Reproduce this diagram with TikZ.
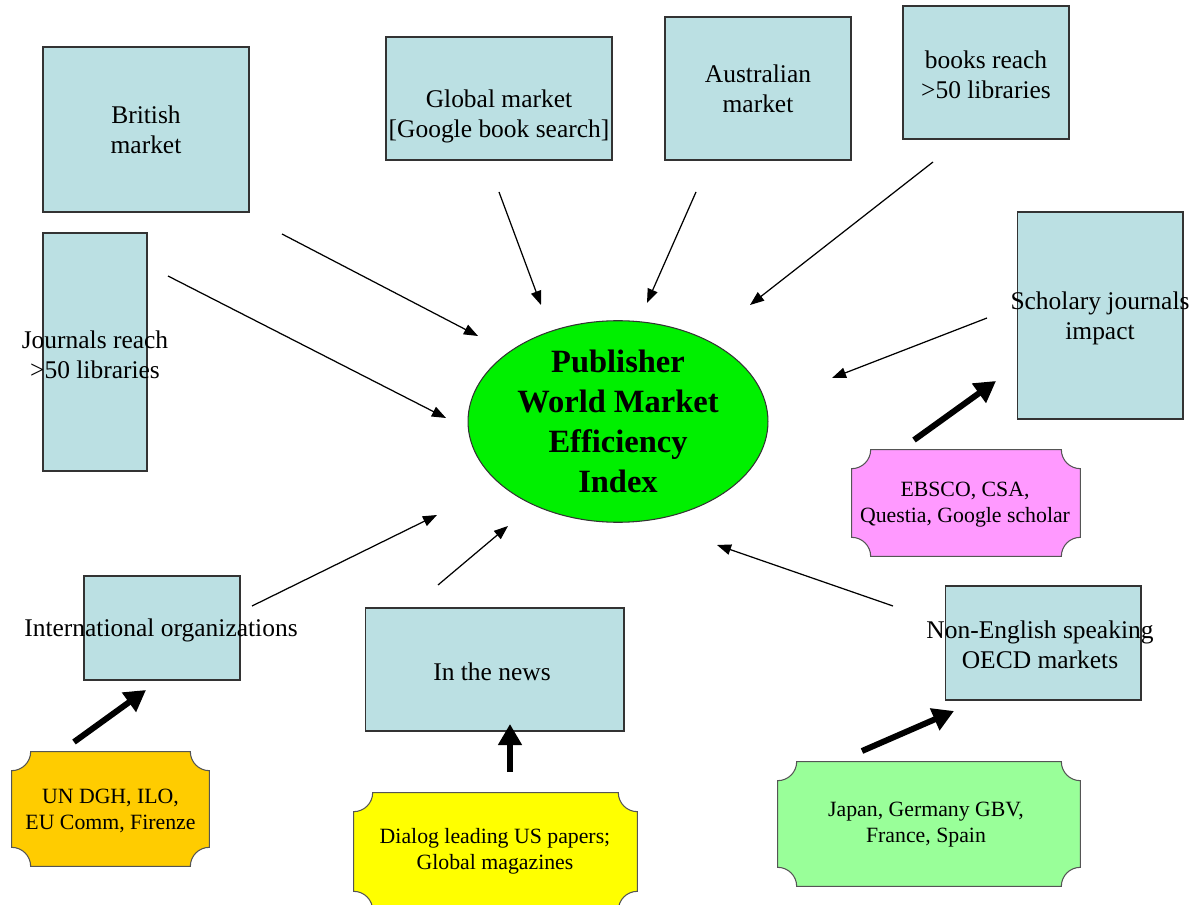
\documentclass[tikz,border=0pt]{standalone}
\usepackage{fontspec}
\setmainfont{Liberation Serif}
\usetikzlibrary{arrows.meta,shapes.geometric,backgrounds}
\definecolor{boxfill}{HTML}{BBE0E3}
\definecolor{boxline}{HTML}{333333}
\definecolor{bannerline}{HTML}{555555}
\definecolor{ellfill}{HTML}{00F000}
\definecolor{orangefill}{HTML}{FFCC00}
\definecolor{yellowfill}{HTML}{FFFF00}
\definecolor{greenfill}{HTML}{99FF99}
\definecolor{pinkfill}{HTML}{FF99FF}
\newcommand{\drawbanner}[2]{%
  \fill[#2, draw=bannerline, line width=0.6pt]
    ([xshift=-0.38cm]#1.north east) arc[start angle=180,end angle=270,radius=0.38cm]
    -- ([yshift=0.38cm]#1.south east) arc[start angle=90,end angle=180,radius=0.38cm]
    -- ([xshift=0.38cm]#1.south west) arc[start angle=0,end angle=90,radius=0.38cm]
    -- ([yshift=-0.38cm]#1.north west) arc[start angle=270,end angle=360,radius=0.38cm]
    -- cycle;}
\begin{document}
\begin{tikzpicture}[x=0.02cm,y=-0.02cm,
  box/.style={draw=boxline, fill=boxfill, line width=0.6pt, inner sep=0pt, align=center,
    font=\fontsize{14.5}{17}\selectfont},
  boxtext/.style={inner sep=0pt, align=center, font=\fontsize{14.5}{17}\selectfont},
  bannertext/.style={inner sep=0pt, align=center, font=\fontsize{12.4}{14.7}\selectfont},
  thinarrow/.style={draw=black, line width=0.7pt, -{Triangle[length=8pt,width=6pt]}},
  thickarrow/.style={draw=black, line width=3.4pt, -{Triangle[length=12pt,width=13pt]}}
]
\path[use as bounding box, clip] (0,0) rectangle (1197,905);

% boxes
\node[box, minimum width=4.12cm, minimum height=3.30cm] (british) at (146,129.5) {British\\market};
\node[box, minimum width=2.08cm, minimum height=4.76cm] (journals) at (95,352) {};
\node[boxtext] (journalstxt) at (95,355) {Journals reach\\>50 libraries};
\node[box, minimum width=4.52cm, minimum height=2.46cm] (global) at (499,98.5) {};
\node[boxtext] (globaltxt) at (499,116) {Global market\\{}[Google book search]};
\node[box, minimum width=3.72cm, minimum height=2.86cm] (austr) at (758,88.5) {Australian\\market};
\node[box, minimum width=3.32cm, minimum height=2.66cm] (books) at (986,72.5) {};
\node[boxtext] (bookstxt) at (986,75) {books reach\\>50 libraries};
\node[box, minimum width=3.32cm, minimum height=4.14cm] (schol) at (1100,315.5) {};
\node[boxtext] (scholtxt) at (1100,318) {Scholary journals\\impact};
\node[box, minimum width=3.12cm, minimum height=2.08cm] (intl) at (162,628) {};
\node[boxtext] (intltxt) at (161,630) {International organizations};
\node[box, minimum width=5.18cm, minimum height=2.46cm] (news) at (494.5,669.5) {};
\node[boxtext] (newstxt) at (492,672) {In the news};
\node[box, minimum width=3.92cm, minimum height=2.28cm] (noneng) at (1043,643) {};
\node[boxtext] (nonengtxt) at (1040,645) {Non-English speaking\\OECD markets};

% central ellipse
\node[ellipse, draw=boxline, fill=ellfill, line width=0.6pt, minimum width=6.0cm, minimum height=3.86cm,
  inner sep=0pt, align=center, font=\fontsize{18.5}{22.7}\selectfont\bfseries] (center) at (618,421.5)
  {Publisher\\World Market\\Efficiency\\Index};

% banners
\node[bannertext, minimum width=3.94cm, minimum height=2.28cm] (un) at (110.5,809) {};
\node[bannertext] (untxt) at (110.5,811) {UN DGH, ILO,\\EU Comm, Firenze};
\node[bannertext, minimum width=5.66cm, minimum height=2.34cm] (dialog) at (495.5,851.5) {};
\node[bannertext] (dialogtxt) at (495,851) {Dialog leading US papers;\\Global magazines};
\node[bannertext, minimum width=6.04cm, minimum height=2.48cm] (japan) at (929,824) {};
\node[bannertext] (japantxt) at (926,825) {Japan, Germany GBV,\\France, Spain};
\node[bannertext, minimum width=4.56cm, minimum height=2.12cm] (ebsco) at (966,503) {};
\node[bannertext] (ebscotxt) at (965,505) {EBSCO, CSA,\\Questia, Google scholar};
\begin{scope}[on background layer]
  \fill[white] (0,0) rectangle (1197,905);
  \drawbanner{un}{orangefill}
  \drawbanner{dialog}{yellowfill}
  \drawbanner{japan}{greenfill}
  \drawbanner{ebsco}{pinkfill}
\end{scope}

% thin arrows
\coordinate (t1s) at (282,234);  \coordinate (t1e) at (478,336);
\coordinate (t2s) at (168,276);  \coordinate (t2e) at (446,418);
\coordinate (t3s) at (499,192);  \coordinate (t3e) at (541,305);
\coordinate (t4s) at (696,192);  \coordinate (t4e) at (647,303);
\coordinate (t5s) at (933,162);  \coordinate (t5e) at (750,305);
\coordinate (t6s) at (987,318);  \coordinate (t6e) at (832,378);
\coordinate (t7s) at (252,606);  \coordinate (t7e) at (437,515);
\coordinate (t8s) at (438,585);  \coordinate (t8e) at (508,526);
\coordinate (t9s) at (893,606);  \coordinate (t9e) at (717,545);
\foreach \i in {1,...,9} { \draw[thinarrow] (t\i s) -- (t\i e); }

% thick arrows
\coordinate (k1s) at (74,742);   \coordinate (k1e) at (146,690);
\coordinate (k2s) at (510,772);  \coordinate (k2e) at (510,724);
\coordinate (k3s) at (862,751);  \coordinate (k3e) at (954,711);
\coordinate (k4s) at (914,440);  \coordinate (k4e) at (996,381);
\foreach \i in {1,...,4} { \draw[thickarrow] (k\i s) -- (k\i e); }
\end{tikzpicture}
\end{document}
